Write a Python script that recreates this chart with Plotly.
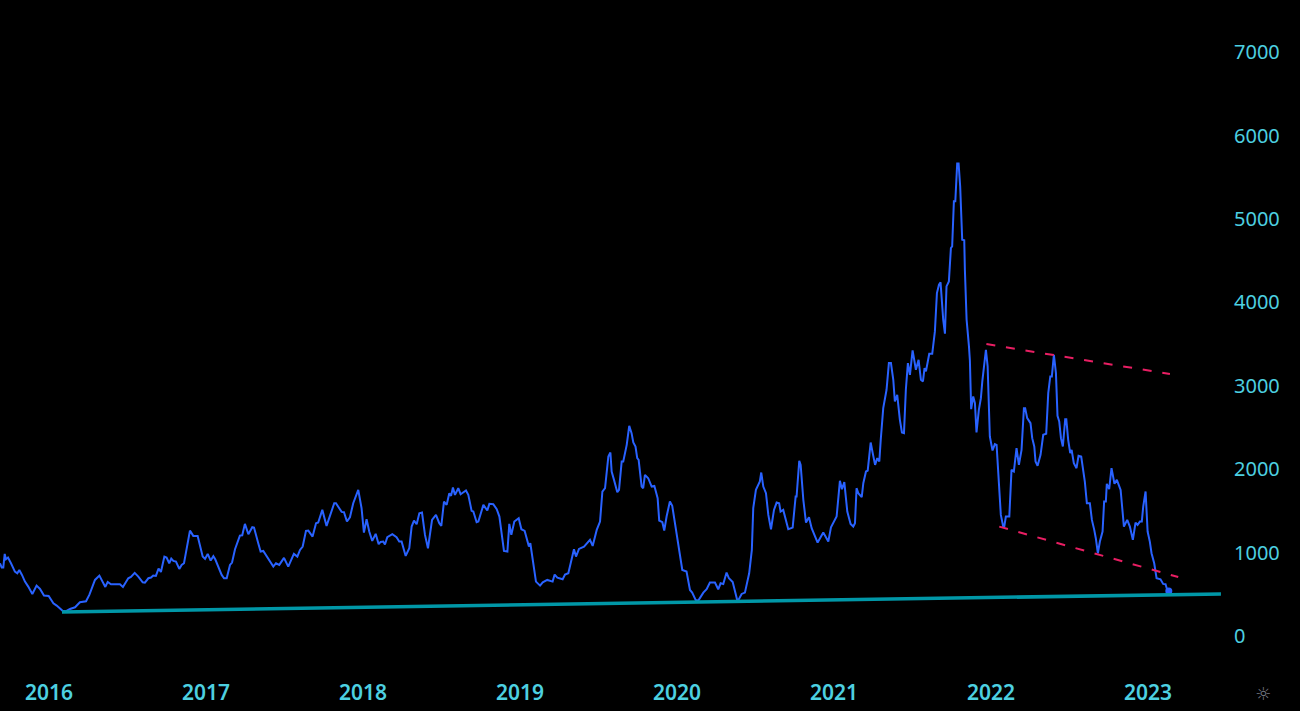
import plotly.graph_objects as go

years = [
 2015.688,2015.699,2015.709,2015.718,2015.726,2015.739,2015.758,2015.783,2015.798,2015.811,2015.828,2015.847,2015.868,2015.894,2015.921,2015.943,2015.968,2015.998,
 2016.028,2016.049,2016.085,2016.106,2016.134,2016.166,2016.197,2016.236,2016.257,2016.272,2016.293,2016.321,2016.342,2016.359,2016.374,2016.395,2016.452,2016.471,2016.505,2016.522,2016.546,2016.569,2016.597,2016.611,2016.633,2016.650,2016.664,2016.681,2016.698,2016.713,2016.735,2016.749,2016.766,2016.779,2016.792,2016.809,2016.830,2016.845,2016.860,2016.898,2016.919,2016.947,2016.979,2016.994,
 2017.011,2017.030,2017.047,2017.059,2017.100,2017.115,2017.132,2017.153,2017.166,2017.185,2017.216,2017.231,2017.248,2017.270,2017.295,2017.306,2017.333,2017.348,2017.365,2017.382,2017.403,2017.429,2017.446,2017.467,2017.497,2017.524,2017.560,2017.582,2017.599,2017.616,2017.637,2017.652,2017.679,2017.701,2017.715,2017.741,2017.768,2017.785,2017.817,2017.828,2017.864,2017.879,2017.898,2017.917,2017.938,2017.970,2017.991,
 2018.006,2018.023,2018.040,2018.059,2018.081,2018.100,2018.112,2018.129,2018.140,2018.155,2018.187,2018.214,2018.231,2018.246,2018.272,2018.295,2018.310,2018.325,2018.342,2018.359,2018.376,2018.395,2018.414,2018.427,2018.440,2018.465,2018.486,2018.499,2018.516,2018.533,2018.550,2018.561,2018.573,2018.586,2018.607,2018.622,2018.656,2018.671,2018.692,2018.703,2018.724,2018.735,2018.767,2018.792,2018.805,2018.830,2018.852,2018.869,2018.883,2018.898,2018.920,2018.932,2018.945,2018.964,2018.992,
 2019.009,2019.030,2019.047,2019.057,2019.066,2019.085,2019.102,2019.128,2019.145,2019.174,2019.208,2019.221,2019.238,2019.272,2019.287,2019.308,2019.344,2019.357,2019.376,2019.408,2019.425,2019.446,2019.463,2019.489,2019.510,2019.525,2019.542,2019.563,2019.576,2019.584,2019.599,2019.620,2019.631,2019.648,2019.658,2019.680,2019.696,2019.711,2019.722,2019.736,2019.747,2019.756,2019.775,2019.785,2019.796,2019.817,2019.839,2019.856,2019.877,2019.887,2019.907,2019.919,2019.934,2019.955,2019.970,2019.987,
 2020.008,2020.034,2020.061,2020.083,2020.097,2020.119,2020.136,2020.168,2020.189,2020.210,2020.242,2020.263,2020.278,2020.295,2020.316,2020.331,2020.355,2020.369,2020.386,2020.412,2020.433,2020.460,2020.477,2020.486,2020.503,2020.528,2020.537,2020.550,2020.567,2020.582,2020.599,2020.618,2020.635,2020.651,2020.660,2020.677,2020.709,2020.737,2020.756,2020.762,2020.779,2020.788,2020.805,2020.822,2020.841,2020.858,2020.879,2020.896,2020.932,2020.964,2020.981,
 2021.017,2021.038,2021.051,2021.066,2021.085,2021.106,2021.123,2021.134,2021.144,2021.155,2021.177,2021.187,2021.204,2021.215,2021.234,2021.247,2021.262,2021.276,2021.289,2021.298,2021.303,2021.314,2021.335,2021.350,2021.363,2021.378,2021.388,2021.403,2021.420,2021.433,2021.446,2021.458,2021.471,2021.484,2021.501,2021.509,2021.522,2021.539,2021.554,2021.567,2021.577,2021.586,2021.607,2021.626,2021.643,2021.656,2021.669,2021.679,2021.686,2021.696,2021.707,2021.717,2021.732,2021.745,2021.753,2021.764,2021.773,2021.785,2021.794,2021.804,2021.817,2021.830,2021.834,2021.845,2021.860,2021.866,2021.874,2021.887,2021.898,2021.908,2021.923,2021.936,2021.945,2021.957,2021.968,2021.979,2021.993,
 2022.010,2022.025,2022.036,2022.051,2022.063,2022.078,2022.085,2022.095,2022.117,2022.131,2022.146,2022.163,2022.178,2022.195,2022.210,2022.218,2022.231,2022.252,2022.263,2022.276,2022.284,2022.297,2022.316,2022.333,2022.352,2022.365,2022.378,2022.388,2022.401,2022.414,2022.424,2022.435,2022.446,2022.458,2022.473,2022.480,2022.492,2022.505,2022.514,2022.528,2022.545,2022.558,2022.575,2022.598,2022.611,2022.630,2022.643,2022.658,2022.668,2022.681,2022.694,2022.711,2022.721,2022.732,2022.738,2022.753,2022.768,2022.787,2022.802,2022.826,2022.847,2022.868,2022.885,2022.904,2022.921,2022.934,2022.949,2022.961,2022.970,2022.985,2022.991,2022.998,
 2023.012,2023.023,2023.040,2023.055,2023.080,2023.097,2023.112,2023.123,2023.133,
]
values = [
 872,820,820,984,920,940,872,772,752,792,732,652,592,504,604,564,484,480,
 392,364,304,296,324,344,404,416,492,572,672,724,652,588,648,620,620,588,692,708,756,712,644,640,692,700,724,720,808,768,952,940,872,928,900,892,804,852,872,1264,1200,1200,952,924,
 984,904,956,920,732,692,692,852,880,1040,1204,1208,1344,1220,1304,1300,1112,1012,1020,968,920,832,872,852,936,832,984,952,1032,1072,1260,1264,1192,1352,1360,1512,1320,1424,1592,1592,1488,1484,1372,1424,1592,1752,1532,
 1240,1400,1252,1140,1224,1100,1128,1132,1096,1184,1220,1184,1132,1132,960,1052,1312,1384,1340,1472,1480,1212,1052,1232,1392,1452,1352,1320,1612,1572,1712,1680,1780,1692,1772,1700,1744,1692,1500,1492,1364,1372,1572,1504,1584,1580,1520,1432,1212,1020,1012,1344,1212,1372,1412,
 1280,1260,1152,1072,1112,872,652,604,644,672,652,736,700,680,736,752,1040,952,1044,1072,1112,1152,1080,1272,1372,1732,1772,2152,2200,1972,1872,1724,1752,2092,2092,2292,2520,2432,2320,2272,2132,2112,1792,1772,1932,1892,1792,1800,1652,1384,1364,1264,1432,1612,1560,1352,
 1112,792,772,552,520,432,424,520,560,640,640,560,632,624,760,692,648,552,412,504,520,752,1032,1532,1752,1852,1960,1792,1712,1452,1280,1512,1600,1592,1492,1512,1280,1300,1672,1672,2100,2052,1632,1360,1424,1292,1200,1120,1240,1132,1304,
 1432,1860,1760,1844,1492,1344,1312,1352,1772,1712,1664,1832,1972,1984,2320,2192,2052,2132,2092,2352,2452,2732,2952,3272,3272,3072,2812,2892,2592,2440,2432,2952,3272,3132,3424,3352,3192,3312,3072,3052,3212,3172,3384,3384,3652,4112,4212,4240,4012,3792,3624,4192,4252,4652,4672,5212,5212,5664,5664,5392,4752,4744,4392,3792,3472,3300,2720,2872,2792,2440,2712,2852,3052,3272,3432,3232,2392,
 2224,2300,2292,1752,1452,1312,1312,1432,1432,1992,1972,2252,2052,2232,2732,2732,2612,2552,2372,2272,2092,2040,2172,2412,2424,2912,3112,3112,3372,3152,2640,2572,2372,2272,2600,2600,2352,2192,2232,2072,2012,2160,2152,1852,1592,1592,1392,1272,1172,992,1132,1252,1612,1612,1824,1760,2012,1824,1872,1752,1312,1392,1312,1152,1360,1332,1372,1372,1552,1732,1512,1252,
 1132,992,872,692,680,624,620,552,540,
]

support_years = [2016.083, 2023.465]
support_values = [288, 504]
upper_years = [2021.971, 2023.14]
upper_values = [3500, 3141]
lower_years = [2022.053, 2023.193]
lower_values = [1311, 707]

year_ticks = [2016, 2017, 2018, 2019, 2020, 2021, 2022, 2023]
value_ticks = [0, 1000, 2000, 3000, 4000, 5000, 6000, 7000]

CYAN = "#4dd0e1"
FONT = "Noto Sans, Open Sans, sans-serif"

fig = go.Figure()
fig.add_trace(go.Scatter(x=years, y=values, mode="lines",
                         line=dict(color="#2962ff", width=2), hoverinfo="skip"))
fig.add_trace(go.Scatter(x=years[-1:], y=values[-1:], mode="markers",
                         marker=dict(color="#2962ff", size=7), hoverinfo="skip"))
fig.add_trace(go.Scatter(x=support_years, y=support_values, mode="lines",
                         line=dict(color="#0097a7", width=3.5), hoverinfo="skip"))
for xs, ys in ((upper_years, upper_values), (lower_years, lower_values)):
    fig.add_trace(go.Scatter(x=xs, y=ys, mode="lines",
                             line=dict(color="#e91e63", width=2, dash="9px,10.8px"), hoverinfo="skip"))

fig.update_layout(
    width=1300, height=711, autosize=False, showlegend=False,
    paper_bgcolor="#000000", plot_bgcolor="#000000",
    margin=dict(l=0, r=72, t=0, b=36),
    font=dict(family=FONT, color=CYAN),
    annotations=[dict(text="☼", xref="paper", yref="paper", x=1.0285, y=-0.027,
                      xanchor="center", yanchor="middle", showarrow=False,
                      font=dict(family="DejaVu Sans", size=18, color="#787b86"))],
)
fig.update_xaxes(range=[2015.688, 2023.51], tickvals=year_ticks, ticktext=[str(y) for y in year_ticks],
                 showgrid=False, zeroline=False, showline=False, ticks="", ticklabelstandoff=3,
                 tickfont=dict(size=21, family=FONT, color=CYAN, weight=600))
fig.update_yaxes(range=[-468, 7626], side="right", tickvals=value_ticks, ticktext=[str(v) for v in value_ticks],
                 showgrid=False, zeroline=False, showline=False, ticks="", ticklabelstandoff=5,
                 tickfont=dict(size=20, family=FONT, color=CYAN))

fig.write_html("out.html", config={"displayModeBar": False},
               post_script="document.body.style.margin='0';document.body.style.background='#000';")
